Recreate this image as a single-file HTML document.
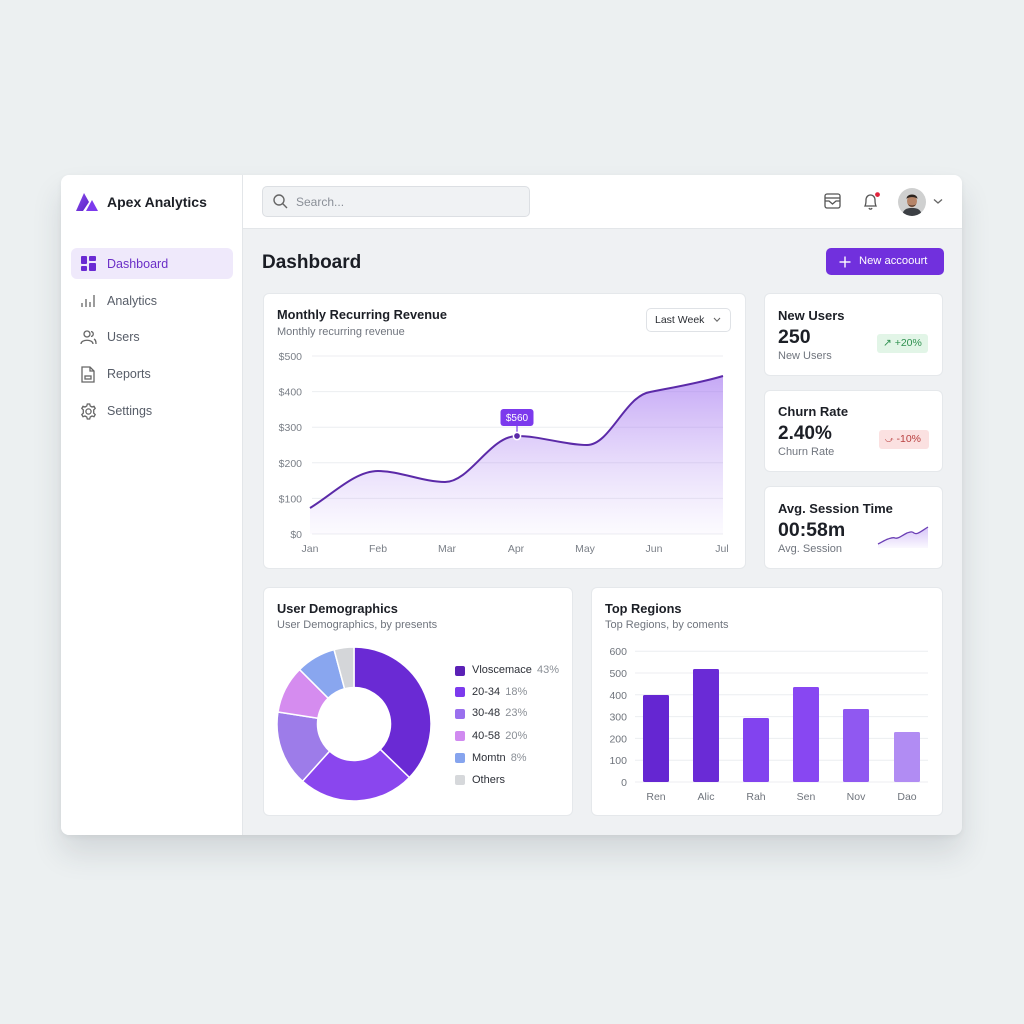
<!DOCTYPE html>
<html><head><meta charset="utf-8">
<style>
*{margin:0;padding:0;box-sizing:border-box}
html,body{width:1024px;height:1024px;overflow:hidden}
body{background:#ecf0f1;font-family:"Liberation Sans",Arial,sans-serif;position:relative;color:#1c1f26}
.abs{position:absolute}
.frame{left:61px;top:175px;width:901px;height:660px;border-radius:8px;background:#eff1f3;box-shadow:0 18px 30px rgba(40,50,60,0.13),0 2px 6px rgba(0,0,0,0.05);overflow:hidden}
.side{left:0;top:0;width:182px;height:660px;background:#fff;border-right:1px solid #e3e6e9}
.head{left:182px;top:0;width:719px;height:54px;background:#fff;border-bottom:1px solid #e3e6e9}
.t{position:absolute;white-space:nowrap;line-height:1}
.card{position:absolute;background:#fff;border:1px solid #e5e8eb;border-radius:6px}
.nav{font-size:12.5px;color:#575d68}
.sub{font-size:11px;color:#70757e}
.ttl{font-size:12.8px;font-weight:bold;color:#1c1f26}
</style></head><body>
<div class="abs frame">
  <div class="abs side"></div>
  <div class="abs head"></div>
</div>

<!-- Logo -->
<svg class="abs" style="left:75px;top:191px" width="24" height="22" viewBox="0 0 24 22">
  <defs><linearGradient id="lg" x1="0" y1="0" x2="1" y2="1"><stop offset="0" stop-color="#8b4cf0"/><stop offset="1" stop-color="#5a22c4"/></linearGradient></defs>
  <polygon points="1,20 9,2 14,11 8,20" fill="url(#lg)"/>
  <polygon points="11,20 17,9 23,20" fill="#7c3aed"/>
</svg>
<div class="t" style="left:107px;top:195px;font-size:14px;font-weight:bold;color:#1c1f26">Apex Analytics</div>

<!-- Nav -->
<div class="abs" style="left:71px;top:248px;width:162px;height:31px;background:#efe9fb;border-radius:6px"></div>
<svg class="abs" style="left:81px;top:256px" width="15" height="15" viewBox="0 0 15 15">
  <rect x="0" y="0" width="6" height="8" rx="1" fill="#6a2bd3"/><rect x="8" y="0" width="7" height="5" rx="1" fill="#6a2bd3"/>
  <rect x="0" y="10" width="6" height="5" rx="1" fill="#6a2bd3"/><rect x="8" y="7" width="7" height="8" rx="1" fill="#6a2bd3"/>
</svg>
<div class="t nav" style="left:107px;top:258px;color:#6b2fc7">Dashboard</div>

<svg class="abs" style="left:81px;top:293px" width="15" height="15" viewBox="0 0 15 15" stroke="#666" stroke-width="1.3" fill="none">
  <line x1="1" y1="10" x2="1" y2="14"/><line x1="5" y1="6" x2="5" y2="14"/><line x1="9" y1="9" x2="9" y2="14"/><line x1="13" y1="2" x2="13" y2="14"/>
</svg>
<div class="t nav" style="left:107px;top:295px">Analytics</div>

<svg class="abs" style="left:80px;top:330px" width="17" height="15" viewBox="0 0 17 15" stroke="#666" stroke-width="1.3" fill="none">
  <circle cx="7" cy="4" r="3"/><path d="M1 14 C1 9 13 9 13 14"/><path d="M11 1.5 C14 2 14 6 11 6.5"/><path d="M14 9 C16 10 16 12 16 14"/>
</svg>
<div class="t nav" style="left:107px;top:331px">Users</div>

<svg class="abs" style="left:81px;top:366px" width="14" height="17" viewBox="0 0 14 17" stroke="#666" stroke-width="1.3" fill="none">
  <path d="M1 1 H9 L13 5 V16 H1 Z"/><path d="M9 1 V5 H13"/><rect x="4" y="10" width="6" height="3"/>
</svg>
<div class="t nav" style="left:107px;top:368px">Reports</div>

<svg class="abs" style="left:80px;top:403px" width="17" height="17" viewBox="0 0 17 17" stroke="#666" stroke-width="1.3" fill="none">
  <circle cx="8.5" cy="8.5" r="2.6"/>
  <path d="M7.3 1 H9.7 L10.2 3 L12 4 L14 3.3 L15.2 5.4 L13.7 6.9 V10.1 L15.2 11.6 L14 13.7 L12 13 L10.2 14 L9.7 16 H7.3 L6.8 14 L5 13 L3 13.7 L1.8 11.6 L3.3 10.1 V6.9 L1.8 5.4 L3 3.3 L5 4 L6.8 3 Z"/>
</svg>
<div class="t nav" style="left:107px;top:405px">Settings</div>

<!-- Search -->
<div class="abs" style="left:262px;top:186px;width:268px;height:31px;background:#f0f2f4;border:1px solid #dcdfe3;border-radius:5px"></div>
<svg class="abs" style="left:273px;top:194px" width="15" height="15" viewBox="0 0 15 15" stroke="#666" stroke-width="1.4" fill="none"><circle cx="6" cy="6" r="5"/><line x1="9.8" y1="9.8" x2="14" y2="14"/></svg>
<div class="t" style="left:296px;top:196px;font-size:12px;color:#8a8f97">Search...</div>

<!-- Header icons -->
<svg class="abs" style="left:824px;top:193px" width="17" height="16" viewBox="0 0 17 16" stroke="#555" stroke-width="1.3" fill="none">
  <rect x="1" y="1" width="15" height="14" rx="2"/><line x1="1" y1="5" x2="16" y2="5"/><path d="M1 8 H5 L8.5 11 L12 8 H16"/>
</svg>
<svg class="abs" style="left:862px;top:192px" width="18" height="19" viewBox="0 0 18 19" stroke="#555" stroke-width="1.3" fill="none">
  <path d="M3 14 C4 12 4 10 4 8 C4 5 6 3 8.5 3 C11 3 13 5 13 8 C13 10 13 12 14 14 Z"/><path d="M7 16 C7.5 17.5 9.5 17.5 10 16"/>
  <circle cx="15.5" cy="2.6" r="2.4" fill="#e0243d" stroke="none"/>
</svg>
<svg class="abs" style="left:898px;top:188px" width="28" height="28" viewBox="0 0 28 28">
  <defs><clipPath id="av"><circle cx="14" cy="14" r="14"/></clipPath></defs>
  <g clip-path="url(#av)">
    <rect width="28" height="28" fill="#cfd0d0"/>
    <path d="M4 28 C5 21 9 20 14 20 C19 20 23 21 24 28 Z" fill="#3c3f44"/>
    <ellipse cx="14" cy="13" rx="5" ry="6.2" fill="#b58468"/>
    <path d="M8.5 11 C8.5 5 19.5 5 19.5 11 C18 8.5 10 8.5 8.5 11 Z" fill="#2b231e"/>
    <path d="M10 16 C11 19.5 17 19.5 18 16 C17 18 11 18 10 16 Z" fill="#4a3529"/>
  </g>
</svg>
<svg class="abs" style="left:933px;top:198px" width="10" height="7" viewBox="0 0 10 7" stroke="#666" stroke-width="1.3" fill="none"><path d="M1 1.5 L5 5 L9 1.5"/></svg>

<!-- Title and button -->
<div class="t" style="left:262px;top:253px;font-size:19px;font-weight:bold;color:#1a1d24">Dashboard</div>
<div class="abs" style="left:826px;top:248px;width:118px;height:27px;background:#7130dd;border-radius:5px"></div>
<svg class="abs" style="left:839px;top:256px" width="12" height="12" viewBox="0 0 12 12" stroke="#fff" stroke-width="1.4"><line x1="6" y1="0.5" x2="6" y2="11.5"/><line x1="0.5" y1="6" x2="11.5" y2="6"/></svg>
<div class="t" style="left:859px;top:256px;font-size:11.2px;color:#fff">New accoourt</div>

<!-- All card backgrounds -->
<div class="card" style="left:263px;top:293px;width:483px;height:276px"></div>
<div class="card" style="left:764px;top:293px;width:179px;height:83px"></div>
<div class="card" style="left:764px;top:390px;width:179px;height:82px"></div>
<div class="card" style="left:764px;top:486px;width:179px;height:83px"></div>
<div class="card" style="left:263px;top:587px;width:310px;height:229px"></div>
<div class="card" style="left:591px;top:587px;width:352px;height:229px"></div>

<!-- MRR header -->
<div class="t ttl" style="left:277px;top:309px">Monthly Recurring Revenue</div>
<div class="t sub" style="left:277px;top:327px">Monthly recurring revenue</div>
<div class="abs" style="left:646px;top:308px;width:85px;height:24px;border:1px solid #dfe2e6;border-radius:5px;background:#fff"></div>
<div class="t" style="left:655px;top:315px;font-size:10.5px;color:#2a2d33">Last Week</div>
<svg class="abs" style="left:713px;top:317px" width="8" height="6" viewBox="0 0 8 6" stroke="#666" stroke-width="1.1" fill="none"><path d="M1 1 L4 4.2 L7 1"/></svg>

<svg class="abs" style="left:0;top:0" width="1024" height="1024" viewBox="0 0 1024 1024">
  <defs>
    <linearGradient id="af" x1="0" y1="376" x2="0" y2="534" gradientUnits="userSpaceOnUse">
      <stop offset="0" stop-color="#9f6ff0" stop-opacity="0.6"/>
      <stop offset="0.5" stop-color="#a87cf0" stop-opacity="0.3"/>
      <stop offset="1" stop-color="#b596f2" stop-opacity="0.04"/>
    </linearGradient>
    <linearGradient id="sf" x1="0" y1="527" x2="0" y2="548" gradientUnits="userSpaceOnUse">
      <stop offset="0" stop-color="#a57ef0" stop-opacity="0.45"/>
      <stop offset="1" stop-color="#a57ef0" stop-opacity="0.05"/>
    </linearGradient>
  </defs>
  <g stroke="#eceef1" stroke-width="1">
    <line x1="312" y1="356" x2="723" y2="356"/><line x1="312" y1="391.6" x2="723" y2="391.6"/>
    <line x1="312" y1="427.2" x2="723" y2="427.2"/><line x1="312" y1="462.8" x2="723" y2="462.8"/>
    <line x1="312" y1="498.4" x2="723" y2="498.4"/><line x1="312" y1="534" x2="723" y2="534"/>
  </g>
  <g font-family="Liberation Sans, Arial, sans-serif" font-size="10.5" fill="#7a7f87" text-anchor="end">
    <text x="302" y="360">$500</text><text x="302" y="395.6">$400</text><text x="302" y="431.2">$300</text>
    <text x="302" y="466.8">$200</text><text x="302" y="502.4">$100</text><text x="302" y="538">$0</text>
  </g>
  <g font-family="Liberation Sans, Arial, sans-serif" font-size="10.5" fill="#7a7f87" text-anchor="middle">
    <text x="310" y="552">Jan</text><text x="378" y="552">Feb</text><text x="447" y="552">Mar</text><text x="516" y="552">Apr</text>
    <text x="585" y="552">May</text><text x="654" y="552">Jun</text><text x="722" y="552">Jul</text>
  </g>
  <path d="M310,508 C333,494 355,471 378,471 C400,471 423,482 445,482 C470,482 490,436 517,436 C540,436 565,445 587,445 C610,445 625,396 650,392 C670,388 700,383 723,376 L723,534 L310,534 Z" fill="url(#af)"/>
  <path d="M310,508 C333,494 355,471 378,471 C400,471 423,482 445,482 C470,482 490,436 517,436 C540,436 565,445 587,445 C610,445 625,396 650,392 C670,388 700,383 723,376" fill="none" stroke="#5b2aa8" stroke-width="2"/>
  <line x1="517" y1="426" x2="517" y2="433" stroke="#7c3aed" stroke-width="1.2"/>
  <rect x="500.5" y="409" width="33" height="17" rx="3" fill="#7c3aed"/>
  <text x="517" y="421" font-family="Liberation Sans, Arial, sans-serif" font-size="10" fill="#fff" text-anchor="middle">$560</text>
  <circle cx="517" cy="436" r="3.6" fill="#5b2aa8" stroke="#fff" stroke-width="1.5"/>

  <!-- sparkline -->
  <path d="M878,544 C882,542 885,540 888,539 C891,538 893,537 895,538 C898,539 901,536 907,533 C910,532 912,531 914,533 C917,535 920,532 928,527 L928,548 L878,548 Z" fill="url(#sf)"/>
  <path d="M878,544 C882,542 885,540 888,539 C891,538 893,537 895,538 C898,539 901,536 907,533 C910,532 912,531 914,533 C917,535 920,532 928,527" fill="none" stroke="#6b3fb5" stroke-width="1.3"/>

  <!-- donut -->
  <g stroke="#fff" stroke-width="1.5">
    <path d="M354,647 A77,77 0 0 1 409.39,777.49 L380.25,749.36 A36.5,36.5 0 0 0 354,687.5 Z" fill="#6a2ad4"/>
    <path d="M409.39,777.49 A77,77 0 0 1 302.48,781.22 L329.58,751.12 A36.5,36.5 0 0 0 380.25,749.36 Z" fill="#8a46ee"/>
    <path d="M302.48,781.22 A77,77 0 0 1 277.95,711.96 L317.95,718.29 A36.5,36.5 0 0 0 329.58,751.12 Z" fill="#9d7ce9"/>
    <path d="M277.95,711.96 A77,77 0 0 1 299.55,669.55 L328.19,698.19 A36.5,36.5 0 0 0 317.95,718.29 Z" fill="#d58cef"/>
    <path d="M299.55,669.55 A77,77 0 0 1 334.07,649.62 L344.55,688.74 A36.5,36.5 0 0 0 328.19,698.19 Z" fill="#89a6ef"/>
    <path d="M334.07,649.62 A77,77 0 0 1 354,647 L354,687.5 A36.5,36.5 0 0 0 344.55,688.74 Z" fill="#d4d6d9"/>
  </g>

  <!-- bars grid -->
  <g stroke="#eceef1" stroke-width="1">
    <line x1="635" y1="651.2" x2="928" y2="651.2"/><line x1="635" y1="673" x2="928" y2="673"/>
    <line x1="635" y1="694.8" x2="928" y2="694.8"/><line x1="635" y1="716.6" x2="928" y2="716.6"/>
    <line x1="635" y1="738.4" x2="928" y2="738.4"/><line x1="635" y1="760.2" x2="928" y2="760.2"/>
    <line x1="635" y1="782" x2="928" y2="782"/>
  </g>
  <g font-family="Liberation Sans, Arial, sans-serif" font-size="10.5" fill="#6f747c" text-anchor="end">
    <text x="627" y="655.2">600</text><text x="627" y="677">500</text><text x="627" y="698.8">400</text>
    <text x="627" y="720.6">300</text><text x="627" y="742.4">200</text><text x="627" y="764.2">100</text><text x="627" y="786">0</text>
  </g>
  <rect x="643" y="695" width="26" height="87" rx="1.5" fill="#6526d2"/>
  <rect x="693" y="669" width="26" height="113" rx="1.5" fill="#6a2bd6"/>
  <rect x="743" y="718" width="26" height="64" rx="1.5" fill="#8243ef"/>
  <rect x="793" y="687" width="26" height="95" rx="1.5" fill="#8847f2"/>
  <rect x="843" y="709" width="26" height="73" rx="1.5" fill="#9058f1"/>
  <rect x="894" y="732" width="26" height="50" rx="1.5" fill="#b18cf3"/>
  <g font-family="Liberation Sans, Arial, sans-serif" font-size="10.5" fill="#6f747c" text-anchor="middle">
    <text x="656" y="800">Ren</text><text x="706" y="800">Alic</text><text x="756" y="800">Rah</text>
    <text x="806" y="800">Sen</text><text x="856" y="800">Nov</text><text x="907" y="800">Dao</text>
  </g>
</svg>

<!-- Stat cards text -->
<div class="t ttl" style="left:778px;top:309px;font-size:13px">New Users</div>
<div class="t" style="left:778px;top:328px;font-size:19.5px;font-weight:bold;color:#1c1f26">250</div>
<div class="t sub" style="left:778px;top:351px">New Users</div>
<div class="abs" style="left:877px;top:334px;width:51px;height:19px;background:#e2f5e7;border-radius:3px"></div>
<div class="t" style="left:883px;top:338px;font-size:10.5px;color:#2f9150">↗ +20%</div>

<div class="t ttl" style="left:778px;top:405px;font-size:13px">Churn Rate</div>
<div class="t" style="left:778px;top:424px;font-size:19px;font-weight:bold;color:#1c1f26">2.40%</div>
<div class="t sub" style="left:778px;top:447px">Churn Rate</div>
<div class="abs" style="left:879px;top:430px;width:50px;height:19px;background:#fbe1e1;border-radius:3px"></div>
<div class="t" style="left:885px;top:434px;font-size:10.5px;color:#b94040"><span style="font-size:8px">⤻</span> -10%</div>

<div class="t ttl" style="left:778px;top:502px;font-size:13px">Avg. Session Time</div>
<div class="t" style="left:778px;top:521px;font-size:19.5px;font-weight:bold;color:#1c1f26">00:58m</div>
<div class="t sub" style="left:778px;top:544px">Avg. Session</div>

<!-- Demographics text -->
<div class="t ttl" style="left:277px;top:603px">User Demographics</div>
<div class="t sub" style="left:277px;top:620px">User Demographics, by presents</div>
<div class="abs" style="left:455px;top:666px;width:10px;height:10px;border-radius:2px;background:#5b21b6"></div>
<div class="t" style="left:472px;top:665px;font-size:11px;color:#2d3038">Vloscemace <span style="color:#8a8f96;margin-left:2px">43%</span></div>
<div class="abs" style="left:455px;top:687px;width:10px;height:10px;border-radius:2px;background:#7c3aed"></div>
<div class="t" style="left:472px;top:687px;font-size:11px;color:#2d3038">20-34 <span style="color:#8a8f96;margin-left:2px">18%</span></div>
<div class="abs" style="left:455px;top:709px;width:10px;height:10px;border-radius:2px;background:#9a70ee"></div>
<div class="t" style="left:472px;top:708px;font-size:11px;color:#2d3038">30-48 <span style="color:#8a8f96;margin-left:2px">23%</span></div>
<div class="abs" style="left:455px;top:731px;width:10px;height:10px;border-radius:2px;background:#d08af0"></div>
<div class="t" style="left:472px;top:731px;font-size:11px;color:#2d3038">40-58 <span style="color:#8a8f96;margin-left:2px">20%</span></div>
<div class="abs" style="left:455px;top:753px;width:10px;height:10px;border-radius:2px;background:#86a4ee"></div>
<div class="t" style="left:472px;top:753px;font-size:11px;color:#2d3038">Momtn <span style="color:#8a8f96;margin-left:2px">8%</span></div>
<div class="abs" style="left:455px;top:775px;width:10px;height:10px;border-radius:2px;background:#d6d8db"></div>
<div class="t" style="left:472px;top:775px;font-size:11px;color:#2d3038">Others</div>

<!-- Regions text -->
<div class="t ttl" style="left:605px;top:603px">Top Regions</div>
<div class="t sub" style="left:605px;top:620px">Top Regions, by coments</div>
</body></html>
